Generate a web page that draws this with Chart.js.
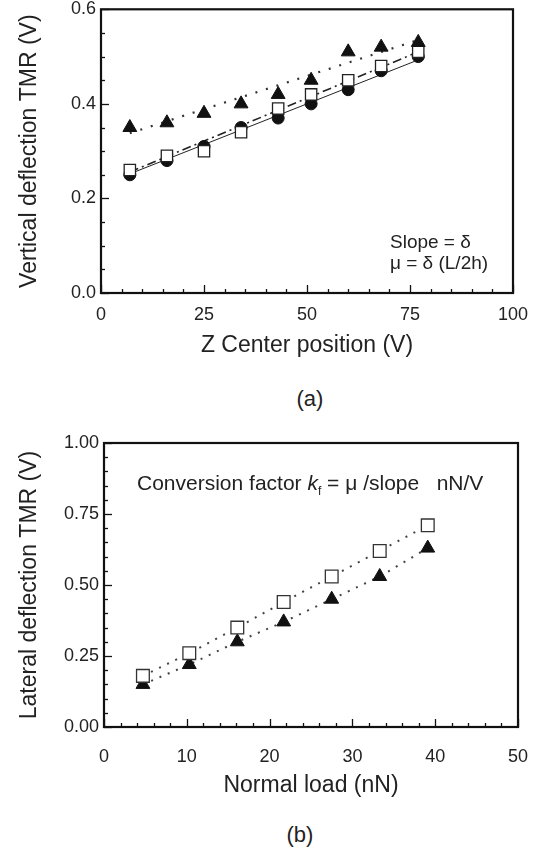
<!DOCTYPE html>
<html>
<head>
<meta charset="utf-8">
<script src="https://cdn.jsdelivr.net/npm/chart.js@4.4.1/dist/chart.umd.min.js"></script>
<style>
  body { margin: 0; background: #fff; width: 539px; height: 848px; position: relative; overflow: hidden;
         font-family: "Liberation Sans", Arial, Helvetica, sans-serif; color: #222; }
  .box { position: absolute; left: 0; width: 539px; }
  .note { position: absolute; font-size: 19px; line-height: 22px; white-space: nowrap; color: #222; }
  .cap { position: absolute; font-size: 22px; line-height: 24px; width: 60px; text-align: center; color: #222; }
</style>
</head>
<body>
<div class="box" style="top:0;height:360px"><canvas id="ca"></canvas></div>
<div class="box" style="top:420px;height:380px"><canvas id="cb"></canvas></div>
<div class="note" style="left:390px;top:231px">Slope = δ</div>
<div class="note" style="left:390px;top:252px">μ = δ (L/2h)</div>
<div class="cap" style="left:280px;top:387px">(a)</div>
<div class="note" style="left:137px;top:471px;font-size:21px;line-height:24px">Conversion factor <i>k</i><sub style="font-size:12px">f</sub> = μ /slope&nbsp;&nbsp;&nbsp;nN/V</div>
<div class="cap" style="left:270px;top:823px">(b)</div>
<script>
// (a) vertical deflection vs Z center position
const zA = [7, 16, 25, 34, 43, 51, 60, 68, 77];
const triA = [0.35, 0.36, 0.38, 0.40, 0.42, 0.45, 0.51, 0.52, 0.53];
const cirA = [0.25, 0.28, 0.31, 0.35, 0.37, 0.40, 0.43, 0.47, 0.50];
const sqA = [0.26, 0.29, 0.30, 0.34, 0.39, 0.42, 0.45, 0.48, 0.51];
// fitted straight lines in (a), end points
const fitXA = [7, 77];
const triFitA = [0.338, 0.535];
const cirFitA = [0.252, 0.493];
const sqFitA = [0.256, 0.51];

// (b) lateral deflection vs normal load
const loadB = [4.7, 10.3, 16.1, 21.7, 27.5, 33.3, 39.1];
const sqB = [0.18, 0.26, 0.35, 0.44, 0.53, 0.62, 0.71];
const triB = [0.15, 0.22, 0.30, 0.37, 0.45, 0.53, 0.63];

const FONT = '"Liberation Sans", Arial, Helvetica, sans-serif';
Chart.defaults.font.family = FONT;
Chart.defaults.color = '#222';

function pts(xs, ys) { return xs.map((x, i) => ({ x: x, y: ys[i] })); }

// box round the plot and inward ticks on the left and bottom axes
const frame = {
  id: 'frame',
  beforeDatasetsDraw(chart, args, o) {
    const { ctx, chartArea: a, scales: { x, y } } = chart;
    ctx.save();
    ctx.strokeStyle = '#111';
    ctx.lineWidth = 1.3;
    let n = Math.round((x.max - x.min) / o.xMinor), every = Math.round(o.xMajor / o.xMinor);
    for (let i = 0; i <= n; i++) {
      const px = Math.round(x.getPixelForValue(x.min + i * o.xMinor)) + 0.5;
      const len = i % every === 0 ? 8 : 4;
      ctx.beginPath(); ctx.moveTo(px, a.bottom); ctx.lineTo(px, a.bottom - len); ctx.stroke();
    }
    n = Math.round((y.max - y.min) / o.yMinor); every = Math.round(o.yMajor / o.yMinor);
    for (let i = 0; i <= n; i++) {
      const py = Math.round(y.getPixelForValue(y.min + i * o.yMinor)) + 0.5;
      const len = i % every === 0 ? 8 : 4;
      ctx.beginPath(); ctx.moveTo(a.left, py); ctx.lineTo(a.left + len, py); ctx.stroke();
    }
    ctx.lineWidth = 2.2;
    ctx.strokeRect(a.left, a.top, a.right - a.left, a.bottom - a.top);
    ctx.restore();
  }
};

function axes(xr, yr, xTitle, yTitle, yWidth, xHeight, yDec, xPad) {
  return {
    x: {
      type: 'linear', min: xr[0], max: xr[1],
      grid: { display: false, drawTicks: false }, border: { display: false },
      ticks: { stepSize: xr[2], padding: xPad, font: { size: 18, lineHeight: 1 }, color: '#222' },
      title: { display: true, text: xTitle, font: { size: 23 }, color: '#222', padding: { top: 0, bottom: 1 } },
      afterFit(s) { s.height = xHeight; s.paddingLeft = 0; s.paddingRight = 0; }
    },
    y: {
      type: 'linear', min: yr[0], max: yr[1],
      grid: { display: false, drawTicks: false }, border: { display: false },
      ticks: { stepSize: yr[2], padding: 5, font: { size: 18, lineHeight: 1 }, color: '#222',
               callback: v => Number(v).toFixed(yDec) },
      title: { display: true, text: yTitle, font: { size: 23 }, color: '#222', padding: { top: 16, bottom: 0 } },
      afterFit(s) { s.width = yWidth; s.paddingTop = 0; s.paddingBottom = 0; }
    }
  };
}

new Chart(document.getElementById('ca'), {
  type: 'scatter',
  data: {
    datasets: [
      { data: pts(zA, triA), pointStyle: 'triangle', pointRadius: 8, backgroundColor: '#111', borderColor: '#111', borderWidth: 1, order: 1 },
      { data: pts(zA, sqA), pointStyle: 'rect', pointRadius: 8, backgroundColor: '#fff', borderColor: '#222', borderWidth: 1.3, order: 2 },
      { data: pts(zA, cirA), pointStyle: 'circle', pointRadius: 6, backgroundColor: '#111', borderColor: '#111', borderWidth: 1, order: 3 },
      { data: pts(fitXA, triFitA), showLine: true, pointRadius: 0, borderColor: '#333', borderWidth: 2.2, borderDash: [2, 9], order: 4 },
      { data: pts(fitXA, sqFitA), showLine: true, pointRadius: 0, borderColor: '#222', borderWidth: 1.6, borderDash: [9, 4, 2, 4], order: 5 },
      { data: pts(fitXA, cirFitA), showLine: true, pointRadius: 0, borderColor: '#222', borderWidth: 1, order: 6 }
    ]
  },
  options: {
    responsive: true, maintainAspectRatio: false, animation: false,
    layout: { padding: { top: 9, right: 26, left: 0, bottom: 0 } },
    scales: axes([0, 100, 25], [0, 0.6, 0.2], 'Z Center position (V)', 'Vertical deflection TMR (V)', 101, 67, 1, 13),
    plugins: { legend: { display: false }, tooltip: { enabled: false },
               frame: { xMinor: 5, xMajor: 25, yMinor: 0.05, yMajor: 0.2 } }
  },
  plugins: [frame]
});

new Chart(document.getElementById('cb'), {
  type: 'scatter',
  data: {
    datasets: [
      { data: pts(loadB, sqB), showLine: true, pointStyle: 'rect', pointRadius: 9, backgroundColor: '#fff', borderColor: '#333',
        borderWidth: 1.3, segment: { borderColor: '#444', borderWidth: 2, borderDash: [2, 7] }, order: 1 },
      { data: pts(loadB, triB), showLine: true, pointStyle: 'triangle', pointRadius: 8, backgroundColor: '#111', borderColor: '#111',
        borderWidth: 1, segment: { borderColor: '#444', borderWidth: 2, borderDash: [2, 7] }, order: 2 }
    ]
  },
  options: {
    responsive: true, maintainAspectRatio: false, animation: false,
    layout: { padding: { top: 23, right: 21, left: 0, bottom: 0 } },
    scales: axes([0, 50, 10], [0, 1, 0.25], 'Normal load (nN)', 'Lateral deflection TMR (V)', 104, 73, 2, 21),
    plugins: { legend: { display: false }, tooltip: { enabled: false },
               frame: { xMinor: 2, xMajor: 10, yMinor: 0.05, yMajor: 0.25 } }
  },
  plugins: [frame]
});
</script>
</body>
</html>
